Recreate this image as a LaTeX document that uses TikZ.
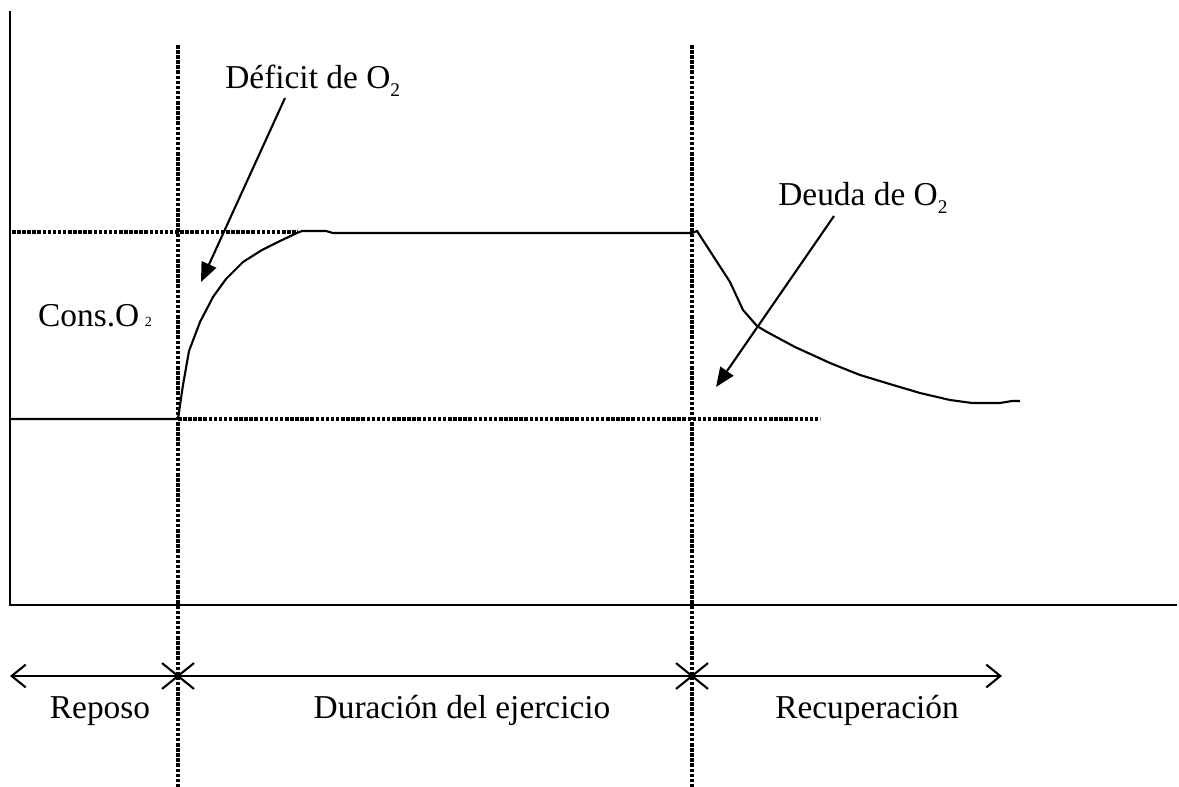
\documentclass[tikz,border=0pt]{standalone}
\usepackage{fontspec}
\setmainfont{Liberation Serif}
\usetikzlibrary{arrows.meta,shapes.misc}

\tikzset{
  curva/.style={line width=1.2pt},
  guia/.style={line width=2pt, dash pattern=on 2pt off 0.9pt},
  flecha/.style={line width=1.2pt, -{Triangle[length=11pt,width=9pt]}},
  tramo/.style={line width=1.2pt, -{Straight Barb[length=8pt,width=13pt]}},
  marca/.style={cross out, draw, line width=1.2pt, minimum width=17pt, minimum height=13.5pt, inner sep=0pt},
  etiqueta/.style={font=\fontsize{19}{22}\selectfont, inner sep=0pt}
}
\newcommand{\sub}{\raisebox{-4pt}{\fontsize{11}{11}\selectfont 2}}

\begin{document}
\begin{tikzpicture}[x=0.02cm, y=-0.02cm]
  \useasboundingbox (0,0) rectangle (1179,787);

  % ejes
  \coordinate (ytop) at (10,11);
  \coordinate (orig) at (10,605);
  \coordinate (xend) at (1177,605);
  \draw[curva] (ytop) -- (orig) -- (xend);

  % lineas de guia
  \coordinate (v1top) at (178,45);
  \coordinate (v1bot) at (178,787);
  \coordinate (v2top) at (692,45);
  \coordinate (v2bot) at (692,787);
  \draw[guia] (v1top) -- (v1bot);
  \draw[guia] (v2top) -- (v2bot);
  \coordinate (maxa) at (12,232);
  \coordinate (maxb) at (298,232);
  \draw[guia] (maxa) -- (maxb);
  \coordinate (repa) at (178,419);
  \coordinate (repb) at (820,419);
  \draw[guia] (repa) -- (repb);

  % consumo de O2
  \coordinate (base) at (10,419);
  \draw[curva] (base) -- (repa) -- (183,385) -- (189,351) -- (200,322) -- (213,297)
    -- (226,279) -- (243,262) -- (262,250) -- (280,241) -- (297,233) -- (302,231)
    -- (326,231) -- (333,233) -- (692,233) -- (697,231) -- (730,282) -- (743,310)
    -- (757,326) -- (767,332) -- (795,347) -- (830,363) -- (860,375) -- (893,385)
    -- (920,393) -- (950,400) -- (972,403) -- (1000,403) -- (1012,401) -- (1020,401);

  \node[etiqueta] (cons) at (95,316) {Cons.O\,{\fontsize{8}{8}\selectfont 2}};

  % deficit y deuda
  \node[etiqueta, anchor=base west] (deficit) at (225,89) {Déficit de O\sub};
  \coordinate (deficitp) at (201,282);
  \draw[flecha] (285,98) -- (deficitp);
  \node[etiqueta, anchor=base west] (deuda) at (778,206) {Deuda de O\sub};
  \coordinate (deudap) at (716,387);
  \draw[flecha] (834,216) -- (deudap);

  % fases
  \node[marca] (m1) at (178,676) {};
  \node[marca] (m2) at (692,676) {};
  \coordinate (izq) at (10,676);
  \coordinate (der) at (1002,676);
  \draw[tramo] (m1.center) -- (izq);
  \draw[curva] (m1.center) -- (m2.center);
  \draw[tramo] (m2.center) -- (der);

  \node[etiqueta, anchor=base] (reposo) at (100,718) {Reposo};
  \node[etiqueta, anchor=base] (duracion) at (462,718) {Duración del ejercicio};
  \node[etiqueta, anchor=base] (recup) at (867,718) {Recuperación};
\end{tikzpicture}
\end{document}
